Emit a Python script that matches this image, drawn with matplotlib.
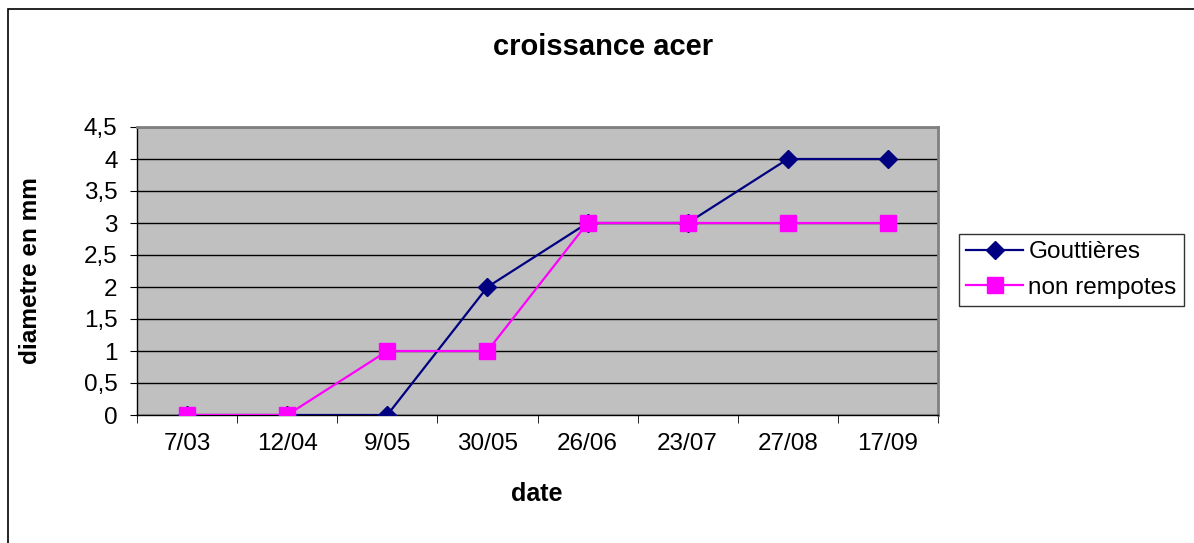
"""Croissance acer : diamètre des plants selon la date (style tableur)."""
import matplotlib
matplotlib.use('Agg')
import matplotlib.pyplot as plt
from matplotlib.patches import Rectangle

plt.rcParams['font.family'] = ['Liberation Sans', 'DejaVu Sans']

dates = ['7/03', '12/04', '9/05', '30/05', '26/06', '23/07', '27/08', '17/09']
gouttieres = [0, 0, 0, 2, 3, 3, 4, 4]
non_rempotes = [0, 0, 1, 1, 3, 3, 3, 3]
y_ticks = [0, 0.5, 1, 1.5, 2, 2.5, 3, 3.5, 4, 4.5]
y_labels = ['0', '0,5', '1', '1,5', '2', '2,5', '3', '3,5', '4', '4,5']

W, H = 1194, 543
fig = plt.figure(figsize=(W / 100, H / 100), dpi=100)

# cadre extérieur du graphique (coupé à droite et en bas)
fig.patches.append(Rectangle((8 / W, -0.1), 1.2, 1 - 9 / H + 0.1,
                             transform=fig.transFigure, fill=False,
                             edgecolor='black', linewidth=1.2))

ax = fig.add_axes([137 / W, 1 - 415 / H, (938 - 137) / W, (415 - 127) / H])
ax.set_facecolor('#C0C0C0')

x = list(range(len(dates)))
ax.plot(x, gouttieres, color='#000080', linewidth=1.6, marker='D',
        markersize=9.5, label='Gouttières', zorder=3)
ax.plot(x, non_rempotes, color='#FF00FF', linewidth=1.6, marker='s',
        markersize=11.5, label='non rempotes', zorder=4)

ax.set_xlim(-0.5, len(dates) - 0.5)
ax.set_ylim(0, 4.5)
ax.set_yticks(y_ticks)
ax.set_yticklabels(y_labels, fontsize=17.5)
ax.set_xticks(x)
ax.set_xticklabels(dates, fontsize=17.5)
ax.tick_params(axis='x', length=0, pad=13)
ax.set_xticks([i - 0.5 for i in range(len(dates) + 1)], minor=True)
ax.tick_params(axis='x', which='minor', length=6, direction='out', color='black')
ax.tick_params(axis='y', length=5, direction='out', pad=9)

ax.grid(axis='y', color='black', linewidth=1, zorder=1)
ax.set_axisbelow(True)
for side in ('top', 'right'):
    ax.spines[side].set_color('#808080')
    ax.spines[side].set_linewidth(2)
for side in ('left', 'bottom'):
    ax.spines[side].set_color('black')
    ax.spines[side].set_linewidth(1)

fig.text(603 / W, 1 - 47 / H, 'croissance acer', ha='center', va='center',
         fontsize=21, fontweight='bold')
fig.text(537 / W, 1 - 494 / H, 'date', ha='center', va='center',
         fontsize=18, fontweight='bold')
fig.text(31 / W, 1 - 271 / H, 'diametre en mm', ha='center', va='center',
         rotation=90, fontsize=17.6, fontweight='bold')

leg = fig.legend(loc='center left', bbox_to_anchor=(959 / W, 1 - 270 / H),
                 fontsize=17.5, frameon=True, fancybox=False, handlelength=2.35,
                 handletextpad=0.2, borderpad=0.3, labelspacing=0.55,
                 borderaxespad=0)
leg.get_frame().set_edgecolor('black')
leg.get_frame().set_linewidth(1)

fig.savefig('out.png', dpi=100)
